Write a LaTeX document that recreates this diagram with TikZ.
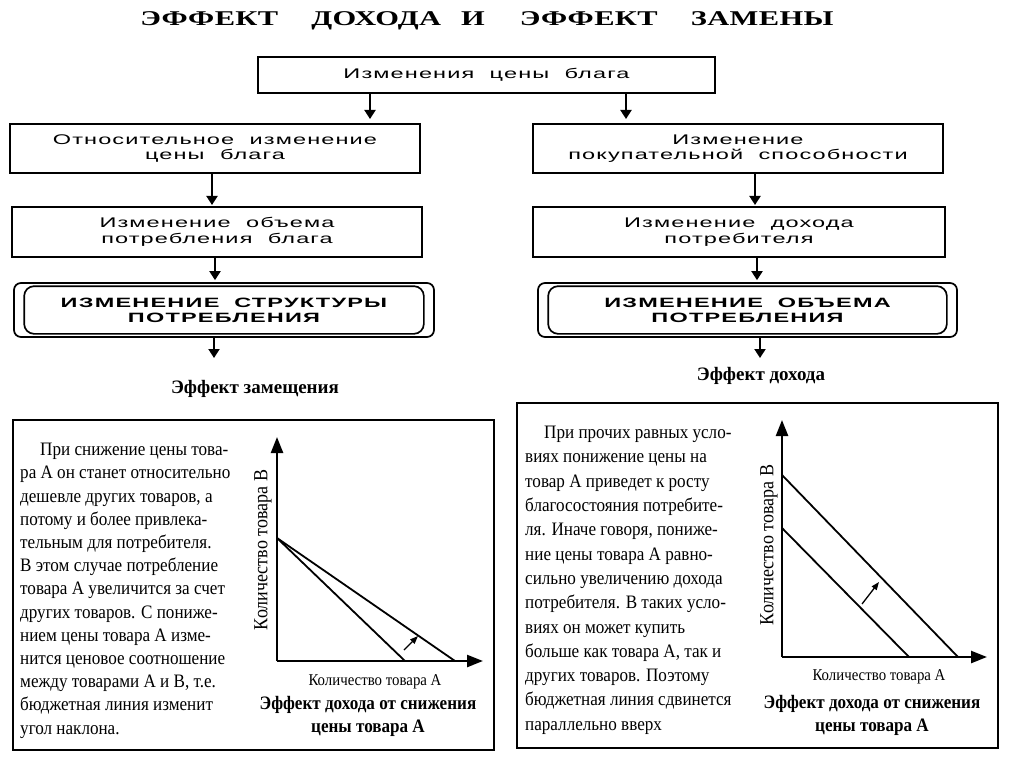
\documentclass[tikz,border=0pt]{standalone}
\usepackage{fontspec}
\setmainfont{Liberation Serif}
\newfontfamily\flowfont[FakeStretch=1.68,LetterSpace=8]{Liberation Sans}
\newfontfamily\flowboldfont[FakeStretch=1.74,LetterSpace=9]{Liberation Sans}
\newfontfamily\titlefont[FakeStretch=1.45,LetterSpace=2]{Liberation Serif}
\newfontfamily\bodyfont[FakeStretch=0.9]{Liberation Serif}
\usetikzlibrary{arrows.meta,calc}
\tikzset{
  flowbox/.style={draw, line width=2pt, inner sep=0pt, align=center,
    font=\flowfont\fontsize{14}{15.5}\selectfont},
  resbox/.style={draw, line width=1.7pt, rounded corners=7pt, inner sep=0pt, align=center,
    font=\flowboldfont\bfseries\fontsize{13.5}{15}\selectfont},
  flowarrow/.style={line width=2pt, -{Triangle[width=11pt,length=9pt]}},
  axisarrow/.style={line width=2.4pt, -{Triangle[width=12pt,length=16pt]}},
  budget/.style={line width=1.8pt},
  shiftarrow/.style={line width=1.3pt, -{Triangle[width=6pt,length=8pt]}},
  panel/.style={line width=1.4pt},
  bodytext/.style={anchor=north west, inner sep=0pt, align=left},
  axislabel/.style={inner sep=0pt, font=\bodyfont\fontsize{16.5}{18}\selectfont},
  vlabel/.style={inner sep=0pt, rotate=90, font=\bodyfont\fontsize{20}{22}\selectfont},
  caption/.style={inner sep=0pt, align=center, font=\bodyfont\bfseries\fontsize{19}{23.5}\selectfont},
  heading/.style={inner sep=0pt, font=\bfseries\fontsize{19}{22}\selectfont}
}
\newcommand\gp{\hspace{1.1em}}
\begin{document}
\begin{tikzpicture}[x=1pt,y=-1pt]
\useasboundingbox (0,0) rectangle (1024,767);
\fill[white] (0,0) rectangle (1024,767);

% title
\node[inner sep=0pt, font=\titlefont\bfseries\fontsize{21}{24}\selectfont] (title) at (487,21)
  {ЭФФЕКТ\hspace{33pt}ДОХОДА\hspace{20pt}И\hspace{35pt}ЭФФЕКТ\hspace{33pt}ЗАМЕНЫ};

% flowchart
\node[flowbox, minimum width=457pt, minimum height=36pt] (top) at (486.5,75) {Изменения\gp цены\gp блага};

\node[flowbox, minimum width=410pt, minimum height=49pt] (L1) at (215,148.5) {Относительное\gp изменение\\цены\gp блага};
\node[flowbox, minimum width=410pt, minimum height=50pt] (L2) at (217,232) {Изменение\gp объема\\потребления\gp блага};
\node[resbox, minimum width=420pt, minimum height=54pt] (L3) at (224,310) {ИЗМЕНЕНИЕ\gp СТРУКТУРЫ\\ПОТРЕБЛЕНИЯ};
\draw[line width=1.7pt, rounded corners=10pt] ($(L3.north west)+(11,4)$) rectangle ($(L3.south east)+(-11,-4)$);

\node[flowbox, minimum width=410pt, minimum height=49pt] (R1) at (738,148.5) {Изменение\\покупательной\gp способности};
\node[flowbox, minimum width=412pt, minimum height=50pt] (R2) at (739,232) {Изменение\gp дохода\\потребителя};
\node[resbox, minimum width=419pt, minimum height=54pt] (R3) at (747.5,310) {ИЗМЕНЕНИЕ\gp ОБЪЕМА\\ПОТРЕБЛЕНИЯ};
\draw[line width=1.7pt, rounded corners=10pt] ($(R3.north west)+(11,4)$) rectangle ($(R3.south east)+(-11,-4)$);

\draw[flowarrow, shorten >=4pt] (370,0 |- top.south) -- (370,0 |- L1.north);
\draw[flowarrow, shorten >=4pt] (626,0 |- top.south) -- (626,0 |- R1.north);
\draw[flowarrow, shorten >=1pt] (212,0 |- L1.south) -- (212,0 |- L2.north);
\draw[flowarrow, shorten >=2pt] (215,0 |- L2.south) -- (215,0 |- L3.north);
\draw[flowarrow, shorten >=1pt] (755,0 |- R1.south) -- (755,0 |- R2.north);
\draw[flowarrow, shorten >=2pt] (757,0 |- R2.south) -- (757,0 |- R3.north);
\coordinate (Lend) at (214,358);
\coordinate (Rend) at (760,358);
\draw[flowarrow] (214,0 |- L3.south) -- (Lend);
\draw[flowarrow] (760,0 |- R3.south) -- (Rend);

\node[heading] (hL) at (255,389) {Эффект замещения};
\node[heading] (hR) at (761,376) {Эффект дохода};

% left panel
\draw[panel] (13,420) rectangle (494,750);
\node[bodytext, font=\bodyfont\fontsize{19}{23.2}\selectfont] (TL) at (20,443) {%
\hspace*{20pt}При снижение цены това-\\
ра А он станет относительно\\
дешевле других товаров, а\\
потому и более привлека-\\
тельным для потребителя.\\
В этом случае потребление\\
товара А увеличится за счет\\
других товаров. С пониже-\\
нием цены товара А изме-\\
нится ценовое соотношение\\
между товарами А и В, т.е.\\
бюджетная линия изменит\\
угол наклона.};

\coordinate (O1) at (277,661);
\coordinate (Y1) at (277,437);
\coordinate (X1) at (483,661);
\coordinate (B1) at (277,538);
\coordinate (A1) at (405,661);
\coordinate (A1b) at (455,661);
\coordinate (s1a) at (404,650);
\coordinate (s1b) at (418,636);
\draw[budget] (B1) -- (A1);
\draw[budget] (B1) -- (A1b);
\draw[axisarrow] (O1) -- (Y1);
\draw[axisarrow] (O1) -- (X1);
\draw[shiftarrow] (s1a) -- (s1b);
\node[vlabel] (yl1) at (263,550) {Количество товара В};
\node[axislabel] (xl1) at (375,682) {Количество товара А};
\node[caption] (c1) at (368,716.5) {Эффект дохода от снижения\\цены товара А};

% right panel
\draw[panel] (517,403) rectangle (998,748);
\node[bodytext, font=\bodyfont\fontsize{19}{24.3}\selectfont] (TR) at (525,426) {%
\hspace*{19pt}При прочих равных усло-\\
виях понижение цены на\\
товар А приведет к росту\\
благосостояния потребите-\\
ля. Иначе говоря, пониже-\\
ние цены товара А равно-\\
сильно увеличению дохода\\
потребителя. В таких усло-\\
виях он может купить\\
больше как товара А, так и\\
других товаров. Поэтому\\
бюджетная линия сдвинется\\
параллельно вверх};

\coordinate (O2) at (782,657);
\coordinate (Y2) at (782,420);
\coordinate (X2) at (987,657);
\coordinate (B2) at (782,528);
\coordinate (A2) at (909,657);
\coordinate (B2b) at (782,475);
\coordinate (A2b) at (958,657);
\coordinate (s2a) at (862,604);
\coordinate (s2b) at (879,582);
\draw[budget] (B2) -- (A2);
\draw[budget] (B2b) -- (A2b);
\draw[axisarrow] (O2) -- (Y2);
\draw[axisarrow] (O2) -- (X2);
\draw[shiftarrow] (s2a) -- (s2b);
\node[vlabel] (yl2) at (769,545) {Количество товара В};
\node[axislabel] (xl2) at (879,677) {Количество товара А};
\node[caption] (c2) at (872,715.5) {Эффект дохода от снижения\\цены товара А};
\end{tikzpicture}
\end{document}
